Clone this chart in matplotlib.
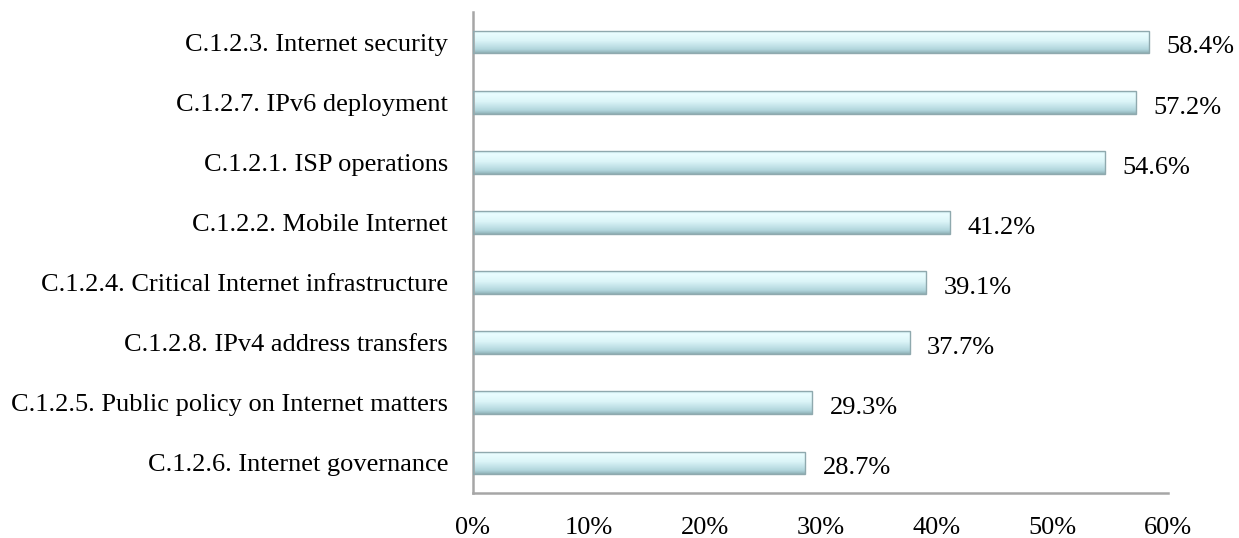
import numpy as np
import matplotlib
matplotlib.use("Agg")
import matplotlib.pyplot as plt
from matplotlib.colors import LinearSegmentedColormap

categories = [
    "C.1.2.3. Internet security",
    "C.1.2.7. IPv6 deployment",
    "C.1.2.1. ISP operations",
    "C.1.2.2. Mobile Internet",
    "C.1.2.4. Critical Internet infrastructure",
    "C.1.2.8. IPv4 address transfers",
    "C.1.2.5. Public policy on Internet matters",
    "C.1.2.6. Internet governance",
]
values = [58.4, 57.2, 54.6, 41.2, 39.1, 37.7, 29.3, 28.7]
xticks = [0, 10, 20, 30, 40, 50, 60]
xtick_labels = ["0%", "10%", "20%", "30%", "40%", "50%", "60%"]

plt.rcParams['font.family'] = ['Liberation Serif', 'DejaVu Serif']

fig = plt.figure(figsize=(12.39, 5.38), dpi=100)
ax = fig.add_axes([473/1239, 45/538, 695/1239, 481/538])

y = np.arange(len(categories))
bh = 0.38
bars = ax.barh(y, values, height=bh, color='none', edgecolor='#8fa9ae', linewidth=1.0, zorder=3)

cmap = LinearSegmentedColormap.from_list('bev', [
    (0.0, '#cfeef2'), (0.12, '#eafdff'), (0.45, '#dcf5f8'),
    (0.85, '#b0d5dc'), (1.0, '#8fb0b5')])
grad = np.linspace(0, 1, 64).reshape(-1, 1)
for yi, v, b in zip(y, values, bars):
    im = ax.imshow(grad, cmap=cmap, aspect='auto',
                   extent=[0, v, yi + bh/2, yi - bh/2], zorder=2, interpolation='bilinear')
    im.set_clip_path(b)
    ax.text(v + 1.5, yi + 0.09, f"{v:.1f}%", va='center', ha='left', fontsize=19, color='black')

ax.set_xlim(0, 60)
ax.set_ylim(len(categories) - 0.5, -0.5)
ax.set_yticks(y)
ax.set_yticklabels(categories, fontsize=19)
ax.set_xticks(xticks)
ax.set_xticklabels(xtick_labels, fontsize=19)
ax.tick_params(axis='both', length=0)
ax.tick_params(axis='x', pad=17)
ax.tick_params(axis='y', pad=18)
for s in ['top', 'right']:
    ax.spines[s].set_visible(False)
for s in ['left', 'bottom']:
    ax.spines[s].set_color('#a6a6a6')
    ax.spines[s].set_linewidth(1.8)

fig.savefig('out.png', dpi=100)
